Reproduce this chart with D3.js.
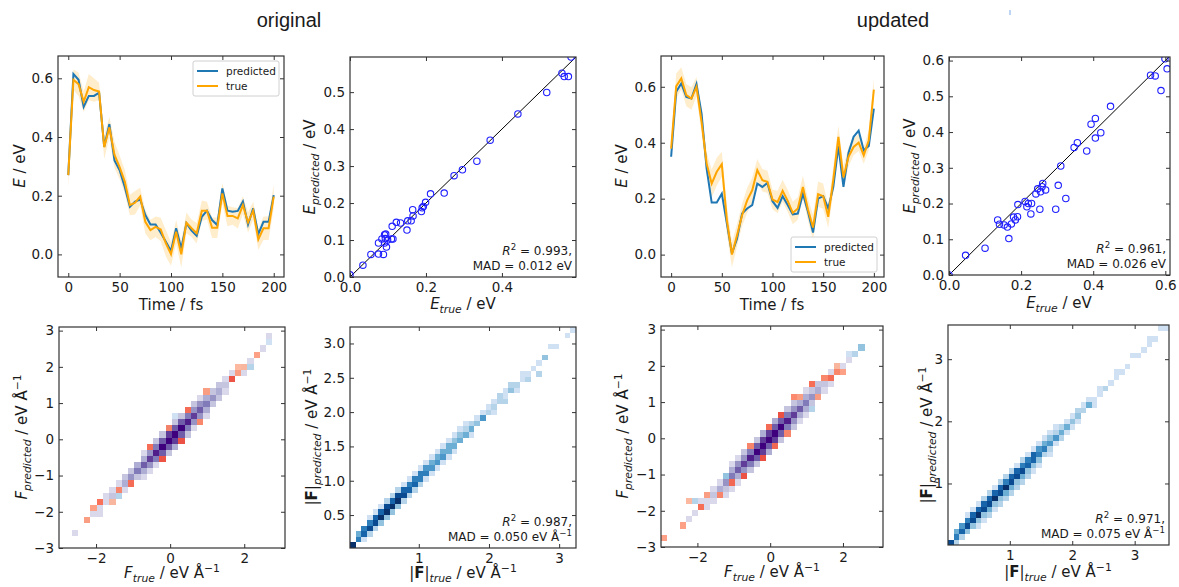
<!DOCTYPE html>
<html>
<head>
<meta charset="utf-8">
<script src="https://cdn.jsdelivr.net/npm/d3@7"></script>
<style>
  body { margin: 0; background: #fff; }
  svg text { font-family: "DejaVu Sans", sans-serif; fill: #1a1a1a; }
  .title { font-family: "Liberation Sans", Arial, sans-serif; }
</style>
</head>
<body>
<script>
// ---- data ----
const panelTitles = ["original", "updated"];
const seriesNames = ["predicted", "true"];

// energy trajectories, one value every 5 fs
const timeFs = [0,5,10,15,20,25,30,35,40,45,50,55,60,65,70,75,80,85,90,95,100,
                105,110,115,120,125,130,135,140,145,150,155,160,165,170,175,180,185,190,195,200];

const origPred  = [0.27,0.615,0.595,0.503,0.54,0.54,0.551,0.367,0.444,0.32,0.287,0.23,0.162,0.18,0.187,0.134,0.102,0.102,0.074,0.043,0.012,
                   0.089,0.02,0.106,0.081,0.063,0.128,0.149,0.117,0.10,0.225,0.149,0.145,0.148,0.18,0.102,0.157,0.069,0.111,0.111,0.202];
const origTrue  = [0.27,0.595,0.58,0.52,0.57,0.56,0.555,0.365,0.433,0.339,0.297,0.248,0.168,0.176,0.197,0.111,0.083,0.094,0.085,0.038,0.001,
                   0.077,0.0,0.108,0.089,0.072,0.149,0.149,0.091,0.091,0.208,0.131,0.131,0.123,0.168,0.109,0.149,0.051,0.089,0.089,0.197];
const origSigma = [0.04,0.035,0.04,0.035,0.045,0.04,0.03,0.04,0.035,0.045,0.04,0.04,0.035,0.04,0.03,0.04,0.035,0.035,0.04,0.045,0.04,
                   0.04,0.045,0.035,0.03,0.035,0.035,0.03,0.035,0.035,0.035,0.035,0.03,0.035,0.03,0.035,0.03,0.035,0.04,0.04,0.04];

const updPred   = [0.35,0.582,0.612,0.564,0.558,0.61,0.505,0.308,0.186,0.186,0.218,0.111,0.004,0.057,0.147,0.165,0.177,0.254,0.242,0.256,0.191,
                   0.167,0.209,0.177,0.144,0.147,0.218,0.153,0.079,0.20,0.209,0.165,0.242,0.388,0.242,0.364,0.421,0.443,0.373,0.388,0.522];
const updTrue   = [0.379,0.602,0.63,0.57,0.558,0.60,0.475,0.326,0.254,0.296,0.323,0.123,0.0,0.069,0.141,0.194,0.23,0.302,0.266,0.26,0.197,
                   0.188,0.228,0.192,0.149,0.165,0.242,0.161,0.097,0.216,0.209,0.135,0.268,0.421,0.276,0.35,0.385,0.40,0.355,0.409,0.59];
const updSigma  = [0.03,0.045,0.04,0.04,0.04,0.035,0.04,0.04,0.05,0.05,0.045,0.05,0.045,0.04,0.04,0.045,0.045,0.04,0.04,0.04,0.035,
                   0.04,0.04,0.04,0.04,0.04,0.04,0.04,0.045,0.045,0.045,0.04,0.045,0.04,0.04,0.035,0.03,0.03,0.03,0.035,0.04];

// energy parity points
const origETrue = [0.0,0.034,0.055,0.075,0.075,0.088,0.084,0.091,0.094,0.093,0.096,0.099,0.109,0.113,0.111,0.122,0.133,0.150,0.152,0.161,
                   0.165,0.166,0.188,0.193,0.199,0.212,0.248,0.274,0.296,0.334,0.369,0.442,0.518,0.558,0.564,0.575,0.582,0.091,0.190];
const origEPred = [0.006,0.032,0.061,0.062,0.092,0.061,0.103,0.114,0.116,0.104,0.081,0.100,0.103,0.103,0.137,0.148,0.146,0.127,0.152,0.152,
                   0.182,0.165,0.177,0.191,0.202,0.225,0.227,0.274,0.290,0.313,0.370,0.441,0.499,0.551,0.542,0.542,0.595,0.092,0.187];
const updETrue  = [0.0,0.046,0.100,0.135,0.140,0.153,0.162,0.166,0.173,0.179,0.184,0.190,0.191,0.211,0.216,0.220,0.227,0.229,0.241,0.246,0.252,
                   0.254,0.258,0.260,0.268,0.296,0.303,0.310,0.324,0.347,0.356,0.382,0.394,0.406,0.406,0.421,0.448,0.559,0.572,0.588,0.599,0.605];
const updEPred  = [0.0,0.055,0.075,0.154,0.142,0.140,0.134,0.102,0.143,0.162,0.154,0.163,0.197,0.206,0.191,0.200,0.171,0.200,0.227,0.241,0.184,
                   0.233,0.247,0.256,0.238,0.184,0.251,0.305,0.214,0.357,0.370,0.347,0.422,0.438,0.383,0.398,0.472,0.559,0.557,0.516,0.605,0.577];

// force component histograms (36 bins from -3 to 3.1)
// one string per x bin, digit = count level for y bins at offsets -2..+2 from the diagonal
const origFcompPurple = ["00000","00000","00100","00000","00100","00100","01100","00110","01210","01210","01320","02420",
                         "02530","13631","14741","15852","16962","26973","37962","26962","25852","14742","14641","13531",
                         "02420","02320","01210","00110","00100","01100","00100","00000","00100","00010","00000","00000"];
// sparse cells: [x bin, offset from diagonal, level]
const origFcompRed  = [[4,0,3],[5,1,3],[6,1,5],[8,-1,2],[9,0,4],[11,-1,5],[14,2,5],[16,-2,6],[17,2,4],[19,-2,6],
                       [20,2,5],[22,-2,4],[23,2,3],[27,0,6],[28,0,3],[28,1,2],[29,0,2],[31,0,3]];
const origFcompBlue = [[9,-1,2],[30,-1,2],[33,0,1],[18,3,1]];

const updFcompPurple = ["00000","00000","00000","00000","00100","00100","00110","01110","01210","02310","12420","13531",
                        "13641","24742","25852","26962","37973","36972","37963","26962","25852","24742","13631","13531",
                        "12421","02320","01210","01210","00110","00100","00100","00000","00000","00000","00000","00000"];
const updFcompRed  = [[0,1,3],[3,0,3],[4,3,2],[6,0,5],[7,1,3],[9,-1,4],[11,-1,5],[13,-2,6],[14,2,4],[16,-2,6],[17,2,5],
                      [18,-2,5],[19,2,6],[20,-2,4],[21,3,4],[22,2,3],[24,2,5],[25,-1,3],[26,1,4],[27,0,5],[28,0,4],[29,-1,3],[28,1,2]];
const updFcompBlue = [[32,0,3],[31,0,2],[10,1,3],[5,2,2],[24,-2,2],[30,1,1]];

// force magnitude histograms (40 bins each), same string layout
const origFmag = ["00900","00640","01760","02861","02871","03971","03982","03972","03982","02871","02761","02761",
                  "02661","01651","01541","01541","01541","01441","01431","00431","00421","01420","00310","00510",
                  "00210","01210","00220","02110","00320","01200","00110","02100","00100","20100","00300","00010",
                  "00100","00000","00100","00100"];
const updFmag  = ["01800","02640","02750","03861","03871","13971","13872","24872","13971","23872","24962","24872",
                  "23871","24862","23761","13771","13651","02641","12531","01521","02420","01410","01310","01320",
                  "00210","00410","01100","00110","00200","00100","00110","00100","00100","00010","00100","00100",
                  "00110","00100","00010","00100"];

const statR2  = ["0.993", "0.961", "0.987", "0.971"];
const statMAD = ["0.012", "0.026", "0.050", "0.075"];

// ---- drawing ----
var svg = d3.select("body").append("svg").attr("width", 1179).attr("height", 587);
var defs = svg.append("defs");
var nPanel = 0;

function panel(box, xDom, yDom) {
    var id = "clip" + (nPanel++);
    defs.append("clipPath").attr("id", id).append("rect")
        .attr("x", box[0]).attr("y", box[1])
        .attr("width", box[2] - box[0]).attr("height", box[3] - box[1]);
    var p = {
        box: box,
        x: d3.scaleLinear().domain(xDom).range([box[0], box[2]]),
        y: d3.scaleLinear().domain(yDom).range([box[3], box[1]]),
        g: svg.append("g")
    };
    p.plot = p.g.append("g").attr("clip-path", "url(#" + id + ")");
    return p;
}

function tidy(sel) {
    sel.select(".domain").remove();
    sel.attr("font-size", 13.5).attr("font-family", null);
    sel.selectAll("line").attr("stroke", "#333");
}

function axes(p, xt, yt, xf, yf) {
    var b = p.box;
    p.g.append("g").attr("transform", "translate(0," + b[3] + ")")
        .call(d3.axisBottom(p.x).tickValues(xt).tickFormat(xf).tickSize(-4).tickPadding(5)).call(tidy);
    p.g.append("g").attr("transform", "translate(0," + b[1] + ")")
        .call(d3.axisTop(p.x).tickValues(xt).tickFormat("").tickSize(-4)).call(tidy);
    p.g.append("g").attr("transform", "translate(" + b[0] + ",0)")
        .call(d3.axisLeft(p.y).tickValues(yt).tickFormat(yf).tickSize(-4).tickPadding(5)).call(tidy);
    p.g.append("g").attr("transform", "translate(" + b[2] + ",0)")
        .call(d3.axisRight(p.y).tickValues(yt).tickFormat("").tickSize(-4)).call(tidy);
    p.g.append("rect")
        .attr("x", b[0]).attr("y", b[1]).attr("width", b[2] - b[0]).attr("height", b[3] - b[1])
        .attr("fill", "none").attr("stroke", "#333").attr("stroke-width", 1.2);
}

// text made of parts: [string, "it sub sup bold"]
function richText(x, y, parts, opt) {
    var size = opt.size || 15;
    var t = svg.append("text").attr("x", x).attr("y", y)
        .attr("font-size", size).attr("text-anchor", opt.anchor || "middle");
    if (opt.rotate) t.attr("transform", "rotate(-90," + x + "," + y + ")");
    var shift = 0;
    parts.forEach(function(part) {
        var k = (part[1] || "").split(" ");
        var s = t.append("tspan").text(part[0]);
        var target = k.indexOf("sub") >= 0 ? size * 0.28 : k.indexOf("sup") >= 0 ? -size * 0.42 : 0;
        s.attr("dy", target - shift);
        shift = target;
        if (target !== 0) s.attr("font-size", size * 0.72);
        if (k.indexOf("it") >= 0) s.attr("font-style", "italic");
        if (k.indexOf("bold") >= 0) s.attr("font-weight", "bold");
    });
    return t;
}

function energyTrace(p, pred, tru, sig) {
    var band = d3.area()
        .x(function(d, i) { return p.x(timeFs[i]); })
        .y0(function(d, i) { return p.y(tru[i] - sig[i]); })
        .y1(function(d, i) { return p.y(tru[i] + sig[i]); });
    p.plot.append("path").datum(tru).attr("d", band)
        .attr("fill", "#ffa500").attr("fill-opacity", 0.2);
    var line = d3.line()
        .x(function(d, i) { return p.x(timeFs[i]); })
        .y(function(d) { return p.y(d); });
    p.plot.append("path").datum(pred).attr("d", line)
        .attr("fill", "none").attr("stroke", "#1f77b4").attr("stroke-width", 2);
    p.plot.append("path").datum(tru).attr("d", line)
        .attr("fill", "none").attr("stroke", "#ffa500").attr("stroke-width", 2);
}

function legend(x0, y0) {
    var g = svg.append("g").attr("transform", "translate(" + x0 + "," + y0 + ")");
    g.append("rect").attr("width", 86).attr("height", 35).attr("rx", 2)
        .attr("fill", "#fff").attr("fill-opacity", 0.8).attr("stroke", "#d0d0d0");
    var colors = ["#1f77b4", "#ffa500"];
    seriesNames.forEach(function(name, i) {
        g.append("line").attr("x1", 4).attr("x2", 25)
            .attr("y1", 10 + i * 15).attr("y2", 10 + i * 15)
            .attr("stroke", colors[i]).attr("stroke-width", 2);
        g.append("text").attr("x", 33).attr("y", 14 + i * 15).attr("font-size", 10.5).text(name);
    });
}

function parity(p, xs, ys, dom) {
    p.plot.append("line")
        .attr("x1", p.x(dom[0])).attr("y1", p.y(dom[0]))
        .attr("x2", p.x(dom[1])).attr("y2", p.y(dom[1]))
        .attr("stroke", "#000").attr("stroke-width", 1);
    p.plot.append("g").selectAll("circle").data(xs).join("circle")
        .attr("cx", function(d) { return p.x(d); })
        .attr("cy", function(d, i) { return p.y(ys[i]); })
        .attr("r", 3.2)
        .attr("fill", "none").attr("stroke", "#2020ff").attr("stroke-width", 1.1);
}

function stats(p, k, unit) {
    var b = p.box;
    richText(b[2] - 4, b[3] - 22, [["R", "it"], ["2", "sup"], [" = " + statR2[k] + ",", ""]],
        {size: 12, anchor: "end"});
    richText(b[2] - 4, b[3] - 7, [["MAD = " + statMAD[k] + " eV", ""]].concat(unit),
        {size: 12, anchor: "end"});
}

function drawCells(p, lo, w, cells, color, op) {
    p.plot.append("g").selectAll("rect").data(cells).join("rect")
        .attr("x", function(d) { return p.x(lo + d[0] * w); })
        .attr("y", function(d) { return p.y(lo + (d[1] + 1) * w); })
        .attr("width", function(d) { return p.x(lo + (d[0] + 1) * w) - p.x(lo + d[0] * w); })
        .attr("height", function(d) { return p.y(lo + d[1] * w) - p.y(lo + (d[1] + 1) * w); })
        .attr("fill", function(d) { return color(d[2]); })
        .attr("fill-opacity", op || 1)
        .attr("shape-rendering", "crispEdges");
}

function bandCells(rows) {
    var cells = [];
    rows.forEach(function(s, i) {
        s.split("").forEach(function(c, k) {
            if (+c > 0) cells.push([i, i + k - 2, +c]);
        });
    });
    return cells;
}

function sparseCells(list) {
    return list.map(function(d) { return [d[0], d[0] + d[1], d[2]]; });
}

var purple = function(v) { return d3.interpolatePurples(0.15 + 0.85 * v / 9); };
var red = function(v) { return d3.interpolateReds(0.12 + 0.48 * v / 6); };
var blue = function(v) { return d3.interpolateBlues(0.1 + 0.9 * v / 9); };

var f1 = d3.format(".1f"), fi = d3.format("d");
var eV_A = [[" / eV Å", ""], ["−1", "sup"]];
var unitA = [[" Å", ""], ["−1", "sup"]];

// titles
panelTitles.forEach(function(t, i) {
    svg.append("text").attr("class", "title")
        .attr("x", [289, 893][i]).attr("y", 27)
        .attr("text-anchor", "middle").attr("font-size", 20).text(t);
});
svg.append("line").attr("x1", 1010).attr("x2", 1010).attr("y1", 10).attr("y2", 15)
    .attr("stroke", "#a8c8f0").attr("stroke-width", 1.5);

// row 1: energies
var p1 = panel([58, 56, 284, 277], [-10, 210], [-0.077, 0.676]);
energyTrace(p1, origPred, origTrue, origSigma);
axes(p1, [0, 50, 100, 150, 200], [0, 0.2, 0.4, 0.6], fi, f1);
legend(193, 61);
richText(171, 310, [["Time / fs", ""]], {});
richText(25, 166, [["E", "it"], [" / eV", ""]], {rotate: true});

var p2 = panel([350, 57, 576, 277], [0, 0.595], [0, 0.595]);
parity(p2, origETrue, origEPred, [0, 0.595]);
axes(p2, [0, 0.2, 0.4], [0, 0.1, 0.2, 0.3, 0.4, 0.5], f1, f1);
stats(p2, 0, []);
richText(463, 309, [["E", "it"], ["true", "it sub"], [" / eV", ""]], {});
richText(315, 167, [["E", "it"], ["predicted", "it sub"], [" / eV", ""]], {rotate: true});

var p3 = panel([661, 56, 884, 277], [-10, 210], [-0.08, 0.71]);
energyTrace(p3, updPred, updTrue, updSigma);
axes(p3, [0, 50, 100, 150, 200], [0, 0.2, 0.4, 0.6], fi, f1);
legend(791, 237);
richText(772, 310, [["Time / fs", ""]], {});
richText(627, 166, [["E", "it"], [" / eV", ""]], {rotate: true});

var p4 = panel([949, 57, 1170, 275], [0, 0.613], [0, 0.61]);
parity(p4, updETrue, updEPred, [0, 0.613]);
axes(p4, [0, 0.2, 0.4, 0.6], [0, 0.1, 0.2, 0.3, 0.4, 0.5, 0.6], f1, f1);
stats(p4, 1, []);
richText(1059, 308, [["E", "it"], ["true", "it sub"], [" / eV", ""]], {});
richText(915, 166, [["E", "it"], ["predicted", "it sub"], [" / eV", ""]], {rotate: true});

// row 2: forces
var wC = 6.1 / 36;
var p5 = panel([59, 327, 285, 548], [-3, 3.1], [-3, 3.1]);
drawCells(p5, -3, wC, bandCells(origFcompPurple), purple);
drawCells(p5, -3, wC, sparseCells(origFcompBlue), blue);
drawCells(p5, -3, wC, sparseCells(origFcompRed), red, 0.9);
axes(p5, [-2, 0, 2], [-3, -2, -1, 0, 1, 2, 3], fi, fi);
richText(172, 578, [["F", "it"], ["true", "it sub"]].concat(eV_A), {});
richText(27, 437, [["F", "it"], ["predicted", "it sub"]].concat(eV_A), {rotate: true});

var p6 = panel([350, 327, 576, 548], [0.02, 3.24], [0.02, 3.24]);
drawCells(p6, 0.02, 3.22 / 40, bandCells(origFmag), blue);
axes(p6, [1, 2, 3], [0.5, 1, 1.5, 2, 2.5, 3], fi, f1);
stats(p6, 2, unitA);
richText(463, 578, [["|", ""], ["F", "bold"], ["|", ""], ["true", "it sub"]].concat(eV_A), {});
richText(317, 437, [["|", ""], ["F", "bold"], ["|", ""], ["predicted", "it sub"]].concat(eV_A), {rotate: true});

var p7 = panel([661, 326, 883, 547], [-3, 3.1], [-3, 3.1]);
drawCells(p7, -3, wC, bandCells(updFcompPurple), purple);
drawCells(p7, -3, wC, sparseCells(updFcompBlue), blue);
drawCells(p7, -3, wC, sparseCells(updFcompRed), red, 0.9);
axes(p7, [-2, 0, 2], [-3, -2, -1, 0, 1, 2, 3], fi, fi);
richText(772, 577, [["F", "it"], ["true", "it sub"]].concat(eV_A), {});
richText(628, 436, [["F", "it"], ["predicted", "it sub"]].concat(eV_A), {rotate: true});

var p8 = panel([948, 325, 1169, 545], [0.01, 3.55], [0.01, 3.55]);
drawCells(p8, 0.01, 3.54 / 40, bandCells(updFmag), blue);
axes(p8, [1, 2, 3], [1, 2, 3], fi, fi);
stats(p8, 3, unitA);
richText(1058, 577, [["|", ""], ["F", "bold"], ["|", ""], ["true", "it sub"]].concat(eV_A), {});
richText(932, 435, [["|", ""], ["F", "bold"], ["|", ""], ["predicted", "it sub"]].concat(eV_A), {rotate: true});
</script>
</body>
</html>
